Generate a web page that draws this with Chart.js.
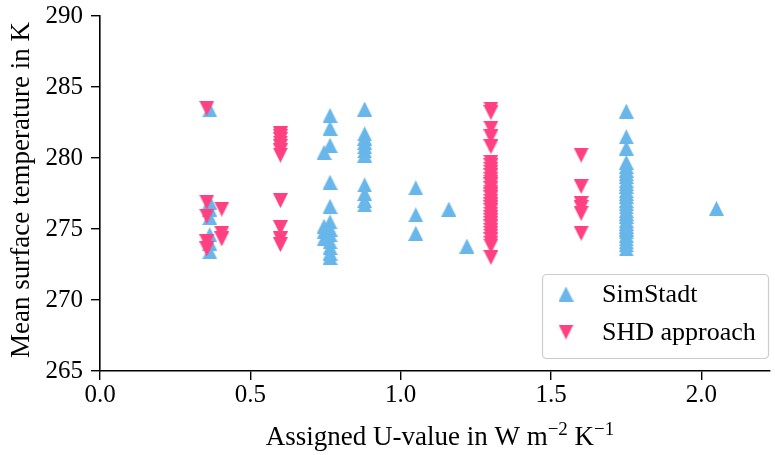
<!DOCTYPE html>
<html>
<head>
<meta charset="utf-8">
<script src="https://cdn.jsdelivr.net/npm/chart.js@4.4.0/dist/chart.umd.min.js"></script>
<style>
  html, body { margin: 0; padding: 0; background: #fff; }
  #wrap { width: 775px; height: 455px; }
</style>
</head>
<body>
<div id="wrap"><canvas id="c" width="775" height="455"></canvas></div>
<script>
// U-value columns and the mean surface temperatures found at each of them
const simStadtU = [0.365, 0.745, 0.765, 0.88, 1.05, 1.16, 1.22, 1.75, 2.05];
const simStadtT = [
  [283.4, 276.9, 276.4, 275.8, 274.6, 274.0, 273.4],
  [280.4, 275.2, 274.8, 274.3],
  [283.0, 282.1, 280.9, 278.3, 276.6, 275.5, 275.0, 274.6, 274.1, 273.7, 273.3, 273.0],
  [283.45, 281.7, 281.4, 281.1, 280.8, 280.5, 280.2, 278.1, 277.5, 277.0, 276.7],
  [277.9, 276.0, 274.7],
  [276.4],
  [273.8],
  [283.3, 281.5, 280.7, 279.7, 279.4, 279.15, 278.9, 278.7, 278.4, 278.2, 278.0, 277.7, 277.5,
   277.3, 277.0, 276.8, 276.55, 276.3, 276.1, 275.9, 275.6, 275.4, 275.2, 275.0, 274.8, 274.55,
   274.3, 274.1, 273.9, 273.6],
  [276.45]
];
const shdU = [0.355, 0.405, 0.6, 1.3, 1.6];
const shdT = [
  [283.5, 276.9, 275.9, 274.1, 273.6],
  [276.4, 274.7, 274.3],
  [281.7, 281.5, 281.3, 281.05, 280.8, 280.5, 280.2, 277.0, 275.1, 274.3, 273.9],
  [283.45, 283.2, 282.1, 281.5, 280.8, 279.7, 279.45, 279.2, 279.0, 278.75, 278.5, 278.3, 278.1,
   277.85, 277.6, 277.4, 277.2, 276.95, 276.7, 276.5, 276.3, 276.05, 275.8, 275.6, 275.4, 275.15,
   274.9, 274.7, 274.5, 274.25, 274.0, 273.8, 273.0],
  [280.2, 278.0, 276.8, 276.5, 276.1, 274.7]
];
const seriesNames = ['SimStadt', 'SHD approach'];
const xRange = [0, 2.228];
const yRange = [265, 290];
const xStep = 0.5;
const yStep = 5;
const yTitle = 'Mean surface temperature in K';

const FONT = '"Liberation Serif", "Times New Roman", serif';
const BLUE = 'rgb(104,182,234)';
const PINK = 'rgb(255,64,129)';

function toPoints(us, ts) {
  const pts = [];
  us.forEach((u, i) => ts[i].forEach(t => pts.push({ x: u, y: t })));
  return pts;
}

// triangle markers (width == height, like matplotlib's ^ and v)
function triangle(color, up, size) {
  const c = document.createElement('canvas');
  c.width = size; c.height = size;
  const g = c.getContext('2d');
  g.fillStyle = color;
  g.beginPath();
  if (up) { g.moveTo(size / 2, 0); g.lineTo(size, size); g.lineTo(0, size); }
  else { g.moveTo(0, 0); g.lineTo(size, 0); g.lineTo(size / 2, size); }
  g.closePath();
  g.fill();
  return c;
}
const upMark = triangle(BLUE, true, 15);
const downMark = triangle(PINK, false, 15);

// axis titles and the boxed legend in the lower right
const decorations = {
  id: 'decorations',
  afterDraw(chart) {
    const ctx = chart.ctx;
    const area = chart.chartArea;
    ctx.save();
    ctx.fillStyle = '#000';

    // y title
    ctx.save();
    ctx.translate(28.5, 190);
    ctx.rotate(-Math.PI / 2);
    ctx.font = '27px ' + FONT;
    ctx.textAlign = 'center';
    ctx.textBaseline = 'alphabetic';
    ctx.fillText(yTitle, 0, 0);
    ctx.restore();

    // x title with superscripted exponents
    const parts = [
      ['Assigned U-value in W m', false], ['\u22122', true], [' K', false], ['\u22121', true]
    ];
    const big = '27px ' + FONT, small = '19px ' + FONT;
    let total = 0;
    parts.forEach(([t, sup]) => { ctx.font = sup ? small : big; total += ctx.measureText(t).width; });
    let x = 440 - total / 2;
    const base = 445;
    ctx.textAlign = 'left';
    ctx.textBaseline = 'alphabetic';
    parts.forEach(([t, sup]) => {
      ctx.font = sup ? small : big;
      ctx.fillText(t, x, sup ? base - 10 : base);
      x += ctx.measureText(t).width;
    });

    // legend
    ctx.beginPath();
    ctx.roundRect(542.5, 274.5, 226, 84, 4);
    ctx.fillStyle = 'rgba(255,255,255,0.8)';
    ctx.fill();
    ctx.strokeStyle = '#cccccc';
    ctx.lineWidth = 1.2;
    ctx.stroke();
    const marks = [upMark, downMark];
    chart.data.datasets.forEach((ds, i) => {
      const cy = 294 + i * 38;
      ctx.drawImage(marks[i], 566 - 7.5, cy - 7.5);
      ctx.fillStyle = '#000';
      ctx.font = '26px ' + FONT;
      ctx.textBaseline = 'middle';
      ctx.fillText(ds.label, 602, cy + 1);
    });
    ctx.restore();
  }
};

function draw() {
  new Chart(document.getElementById('c'), {
    type: 'scatter',
    data: {
      datasets: [
        { label: seriesNames[0], data: toPoints(simStadtU, simStadtT), pointStyle: upMark, order: 1 },
        { label: seriesNames[1], data: toPoints(shdU, shdT), pointStyle: downMark, order: 0 }
      ]
    },
    options: {
      responsive: false,
      devicePixelRatio: 1,
      animation: false,
      events: [],
      layout: { padding: { top: 16, right: 0, left: 0, bottom: 0 } },
      plugins: { legend: { display: false }, tooltip: { enabled: false } },
      scales: {
        x: {
          type: 'linear', min: xRange[0], max: xRange[1],
          afterFit(s) { s.height = 84; s.paddingLeft = 0; s.paddingRight = 0; },
          ticks: {
            stepSize: xStep, includeBounds: false, color: '#000', padding: 0,
            font: { family: FONT, size: 25 }, maxRotation: 0,
            callback: v => v.toFixed(1)
          },
          grid: { drawOnChartArea: false, drawTicks: true, tickLength: 9, color: '#000', lineWidth: 1.4 },
          border: { display: true, color: '#000', width: 1.6 }
        },
        y: {
          type: 'linear', min: yRange[0], max: yRange[1],
          afterFit(s) { s.width = 100; s.paddingTop = 0; s.paddingBottom = 0; },
          ticks: {
            stepSize: yStep, includeBounds: false, color: '#000', padding: 8,
            font: { family: FONT, size: 25 }
          },
          grid: { drawOnChartArea: false, drawTicks: true, tickLength: 9, color: '#000', lineWidth: 1.4 },
          border: { display: true, color: '#000', width: 1.6 }
        }
      }
    },
    plugins: [decorations]
  });
}

if (document.fonts && document.fonts.load) {
  document.fonts.load('22px "Liberation Serif"').then(draw, draw);
} else {
  draw();
}
</script>
</body>
</html>
